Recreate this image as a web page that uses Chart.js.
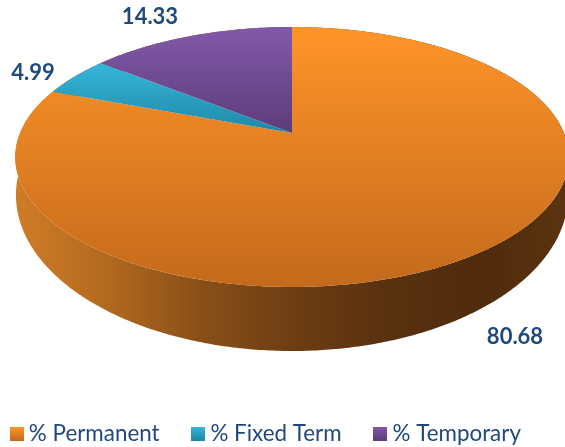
<!DOCTYPE html>
<html>
<head>
<meta charset="utf-8">
<style>html,body{margin:0;padding:0;background:#fff}canvas{display:block}</style>
<script src="https://cdn.jsdelivr.net/npm/chart.js@4"></script>
</head>
<body>
<canvas id="c" width="565" height="447"></canvas>
<script>
const categories = ['% Permanent', '% Fixed Term', '% Temporary'];
const values = [80.68, 4.99, 14.33];
const flatColors = ['#E67F28', '#2A9FC0', '#70498F'];
const faceStops = [['#FF9429', '#C46A1C'], ['#36B6DA', '#1F88A6'], ['#8259AA', '#5C3C7A']];
const valueLabelCenters = [[515, 337], [33, 73], [150, 17]];

// perspective mapping of the pie disc onto the picture
const topDisc = {cx: 292, a: 272, b: 101, c: 133, d: -0.1846};
const baseDisc = {cx: 292, a: 271.3, b: 120, c: 166.2, d: -0.1846};
function project(p, ang) {
  const X = Math.cos(ang), Y = Math.sin(ang), w = 1 + p.d * Y;
  return [p.cx + p.a * X / w, (p.b * Y + p.c) / w];
}
function arcPoints(p, s, e) {
  const n = Math.max(4, Math.ceil((e - s) / 0.01)), out = [];
  for (let i = 0; i <= n; i++) out.push(project(p, s + (e - s) * i / n));
  return out;
}
function squareImage(stops) {
  const cv = document.createElement('canvas');
  cv.width = 14; cv.height = 14;
  const g = cv.getContext('2d'), lg = g.createLinearGradient(0, 0, 0, 14);
  lg.addColorStop(0, stops[0]); lg.addColorStop(1, stops[1]);
  g.fillStyle = lg; g.fillRect(0, 0, 14, 14);
  return cv;
}
const pie3d = {
  id: 'pie3d',
  beforeDatasetDraw(chart, args) {
    const ctx = chart.ctx, arcs = chart.getDatasetMeta(args.index).data;
    ctx.save();
    // wall
    const wall = ctx.createLinearGradient(15, 0, 569, 0);
    [[0, '#D07C26'], [0.153, '#B56B20'], [0.334, '#8A4F18'], [0.496, '#6E3E13'],
     [0.659, '#5A3210'], [0.84, '#4F2B0C'], [1, '#5C3310']].forEach(s => wall.addColorStop(s[0], s[1]));
    arcs.forEach(el => {
      const up = arcPoints(topDisc, el.startAngle, el.endAngle);
      const down = arcPoints(baseDisc, el.startAngle, el.endAngle).reverse();
      ctx.beginPath();
      up.concat(down).forEach((q, i) => i ? ctx.lineTo(q[0], q[1]) : ctx.moveTo(q[0], q[1]));
      ctx.closePath();
      ctx.fillStyle = wall;
      ctx.fill();
    });
    // face
    arcs.forEach((el, i) => {
      const pts = arcPoints(topDisc, el.startAngle, el.endAngle);
      const apex = [topDisc.cx, topDisc.c];
      const ys = pts.map(q => q[1]).concat(apex[1]);
      const lg = ctx.createLinearGradient(0, Math.min(...ys), 0, Math.max(...ys));
      lg.addColorStop(0, faceStops[i][0]);
      lg.addColorStop(1, faceStops[i][1]);
      ctx.beginPath();
      ctx.moveTo(apex[0], apex[1]);
      pts.forEach(q => ctx.lineTo(q[0], q[1]));
      ctx.closePath();
      ctx.fillStyle = lg;
      ctx.fill();
    });
    ctx.restore();
    return false;
  },
  afterDraw(chart) {
    const ctx = chart.ctx;
    ctx.save();
    ctx.font = 'bold 22px Lato';
    ctx.fillStyle = '#1F497D';
    ctx.textAlign = 'center';
    ctx.textBaseline = 'middle';
    values.forEach((v, i) => ctx.fillText(String(v), valueLabelCenters[i][0], valueLabelCenters[i][1]));
    ctx.restore();
  }
};
new Chart(document.getElementById('c'), {
  type: 'pie',
  data: {labels: categories, datasets: [{data: values, backgroundColor: flatColors, borderWidth: 0}]},
  options: {
    responsive: false,
    animation: false,
    layout: {padding: {bottom: -8, left: -30, right: -2}},
    plugins: {
      tooltip: {enabled: false},
      legend: {
        position: 'bottom',
        labels: {
          font: {family: 'Lato', size: 22.4},
          color: '#1F497D',
          usePointStyle: true,
          boxWidth: 1.6,
          pointStyleWidth: 1.6,
          padding: 38,
          generateLabels(chart) {
            return Chart.overrides.pie.plugins.legend.labels.generateLabels(chart).map((it, i) => {
              it.pointStyle = squareImage(faceStops[i]);
              return it;
            });
          }
        }
      }
    }
  },
  plugins: [pie3d]
});
</script>
</body>
</html>
